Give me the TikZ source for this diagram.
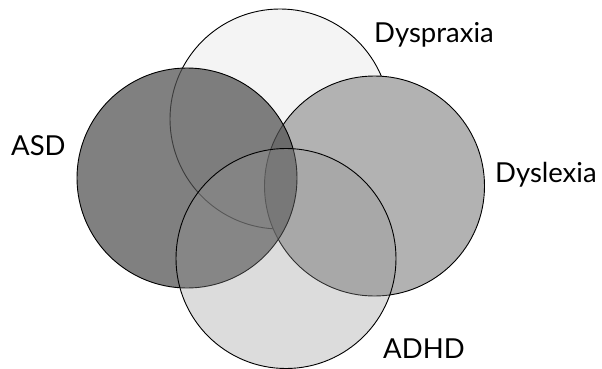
\documentclass[tikz,border=0pt]{standalone}
\usepackage{fontspec}
\setmainfont{Lato}
\definecolor{cDyspraxia}{RGB}{244,244,244}
\definecolor{cASD}{RGB}{81,81,81}
\definecolor{cDyslexia}{RGB}{178,178,178}
\definecolor{cADHD}{RGB}{149,149,149}
\tikzset{
  venn/.style={draw=black, line width=0.9pt},
  lbl/.style={anchor=base west, inner sep=0pt, font=\fontsize{27.5}{30}\selectfont}
}
\begin{document}
\begin{tikzpicture}[x=1pt,y=-1pt]
\useasboundingbox (0,0) rectangle (602,369);
\fill[white] (0,0) rectangle (602,369);
\draw[venn, fill=cDyspraxia] (280,119) circle[radius=110];
\draw[venn, fill=cDyslexia] (374.5,186) circle[radius=110];
\draw[venn, fill=cASD, fill opacity=0.73] (187,178) circle[radius=110];
\draw[venn, fill=cADHD, fill opacity=0.32] (286,258.5) circle[radius=110];
\node[lbl] (dyspraxia) at (374,43) {Dyspraxia};
\node[lbl] (asd) at (11,155) {ASD};
\node[lbl] (dyslexia) at (495,182) {Dyslexia};
\node[lbl] (adhd) at (383,358) {ADHD};
\end{tikzpicture}
\end{document}
